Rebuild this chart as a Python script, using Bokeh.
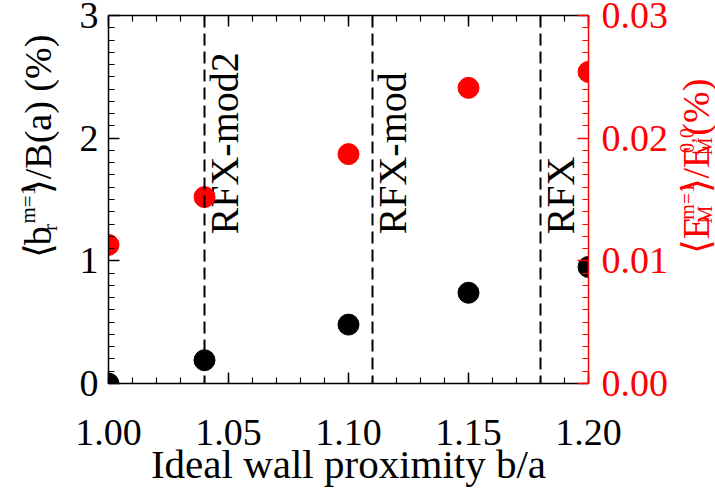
from math import pi
from bokeh.plotting import figure
from bokeh.layouts import row
from bokeh.models import Range1d, LinearAxis, FixedTicker, Span, PrintfTickFormatter, Grid
from bokeh.embed import file_html
from bokeh.resources import INLINE
from bokeh.core.properties import value

# ---- data ----
wall_ratio = [1.00, 1.04, 1.10, 1.15, 1.20]          # b/a
br_pct = [0.0, 0.19, 0.48, 0.74, 0.95]               # <b_r^{m=1}>/B(a) (%)
em_pct = [0.0113, 0.0152, 0.0187, 0.0241, 0.0254]    # <E_M^{m=1}>/E_M^{0,0} (%)
machine_ratio = [1.04, 1.11, 1.18]
machine_names = ["RFX-mod2", "RFX-mod", "RFX"]
x_ticks = [1.00, 1.05, 1.10, 1.15, 1.20]
x_minor = [1.00, 1.01, 1.02, 1.03, 1.04, 1.05, 1.06, 1.07, 1.08, 1.09, 1.10,
           1.11, 1.12, 1.13, 1.14, 1.15, 1.16, 1.17, 1.18, 1.19, 1.20]
y_ticks = [0, 1, 2, 3]
y_minor = [i / 10 for i in range(31)]
y2_ticks = [0.00, 0.01, 0.02, 0.03]
y2_minor = [i / 1000 for i in range(31)]

FONT = "Liberation Serif"
RED = "#ff0000"
H = 490
LEFT_W, RIGHT_W = 66, 43


def bare(width, x0, x1):
    f = figure(width=width, height=H, x_range=Range1d(x0, x1), y_range=Range1d(H, 0),
               output_backend="svg", toolbar_location=None,
               x_axis_location=None, y_axis_location=None,
               min_border_left=0, min_border_right=0, min_border_top=0, min_border_bottom=0)
    f.center = [c for c in f.center if not isinstance(c, Grid)]
    f.outline_line_color = None
    f.background_fill_color = "white"
    f.border_fill_color = "white"
    return f


p = figure(width=715 - LEFT_W - RIGHT_W, height=H, x_range=Range1d(1.0, 1.2), y_range=Range1d(0, 3),
           output_backend="svg", toolbar_location=None,
           x_axis_location=None, y_axis_location=None,
           min_border_left=108 - LEFT_W, min_border_right=127 - RIGHT_W,
           min_border_top=15, min_border_bottom=107)
p.center = [c for c in p.center if not isinstance(c, Grid)]
p.outline_line_color = None
p.background_fill_color = "white"
p.border_fill_color = "white"
p.extra_y_ranges = {"em": Range1d(0, 0.03)}


def style_axis(ax, color, ticks, minor, fmt):
    ax.ticker = FixedTicker(ticks=ticks, minor_ticks=minor)
    ax.formatter = PrintfTickFormatter(format=fmt)
    ax.axis_line_color = color
    ax.axis_line_width = 1.5
    ax.major_tick_line_color = color
    ax.minor_tick_line_color = color
    ax.major_tick_line_width = 1.5
    ax.minor_tick_line_width = 1.2
    ax.major_tick_in = 11
    ax.major_tick_out = 0
    ax.minor_tick_in = 6
    ax.minor_tick_out = 0
    ax.major_label_text_font = FONT
    ax.major_label_text_font_size = "38px"
    ax.major_label_text_color = color


bottom = LinearAxis()
style_axis(bottom, "black", x_ticks, x_minor, "%.2f")
bottom.major_label_standoff = 36
bottom.axis_label = "Ideal wall proximity b/a"
bottom.axis_label_text_font = FONT
bottom.axis_label_text_font_size = "41px"
bottom.axis_label_text_font_style = "normal"
bottom.axis_label_text_color = "black"
bottom.axis_label_standoff = -7
p.add_layout(bottom, "below")

top = LinearAxis()
style_axis(top, "black", x_ticks, x_minor, "%.2f")
top.major_label_overrides = {t: "" for t in x_ticks}
top.major_label_standoff = 0
p.add_layout(top, "above")

left = LinearAxis()
style_axis(left, "black", y_ticks, y_minor, "%d")
left.major_label_standoff = 10
p.add_layout(left, "left")

right = LinearAxis(y_range_name="em")
style_axis(right, RED, y2_ticks, y2_minor, "%.2f")
right.major_label_standoff = 13
p.add_layout(right, "right")

# dashed machine markers
for xv in machine_ratio:
    p.add_layout(Span(location=xv, dimension="height", line_color="black",
                      line_width=2, line_dash="12 6"))

p.text(x=machine_ratio, y=[1.215] * len(machine_ratio), text=machine_names,
       angle=pi / 2, x_offset=20, text_align="left", text_baseline="middle",
       text_font=value(FONT), text_font_size="40px", text_color="black")

# data points
p.scatter(wall_ratio, br_pct, size=21, color="black")
p.scatter(wall_ratio, em_pct, size=21, color=RED, y_range_name="em")


def seg(fig, x, y, txt, size, color):
    fig.text(x=[x], y=[y], text=[txt], angle=pi / 2, text_align="left",
             text_baseline="middle", text_font=value(FONT), text_font_size=size,
             text_color=color)


# left axis title: <b_r^{m=1}>/B(a) (%)
fl = bare(LEFT_W, 0, LEFT_W)
seg(fl, 37, 323, "\u27e8", "38px", "black")
seg(fl, 37, 306, "b", "38px", "black")
seg(fl, 49, 287, "r", "21px", "black")
seg(fl, 27, 277, "m=1", "21px", "black")
seg(fl, 37, 238, "\u27e9/B(a) (%)", "38px", "black")

# right axis title: <E_M^{m=1}>/E_M^{0,0} (%)
fr = bare(RIGHT_W, 715 - RIGHT_W, 715)
seg(fr, 695, 317, "\u27e8", "38px", RED)
seg(fr, 695, 298, "E", "38px", RED)
seg(fr, 704, 277, "M", "20px", RED)
seg(fr, 686, 272, "m=1", "20px", RED)
seg(fr, 695, 237, "\u27e9/E", "38px", RED)
seg(fr, 704, 186, "M", "20px", RED)
seg(fr, 686, 183, "0,0", "20px", RED)
seg(fr, 695, 160, " (%)", "38px", RED)

layout = row(fl, p, fr)
open("out.html", "w").write(file_html(layout, INLINE))
